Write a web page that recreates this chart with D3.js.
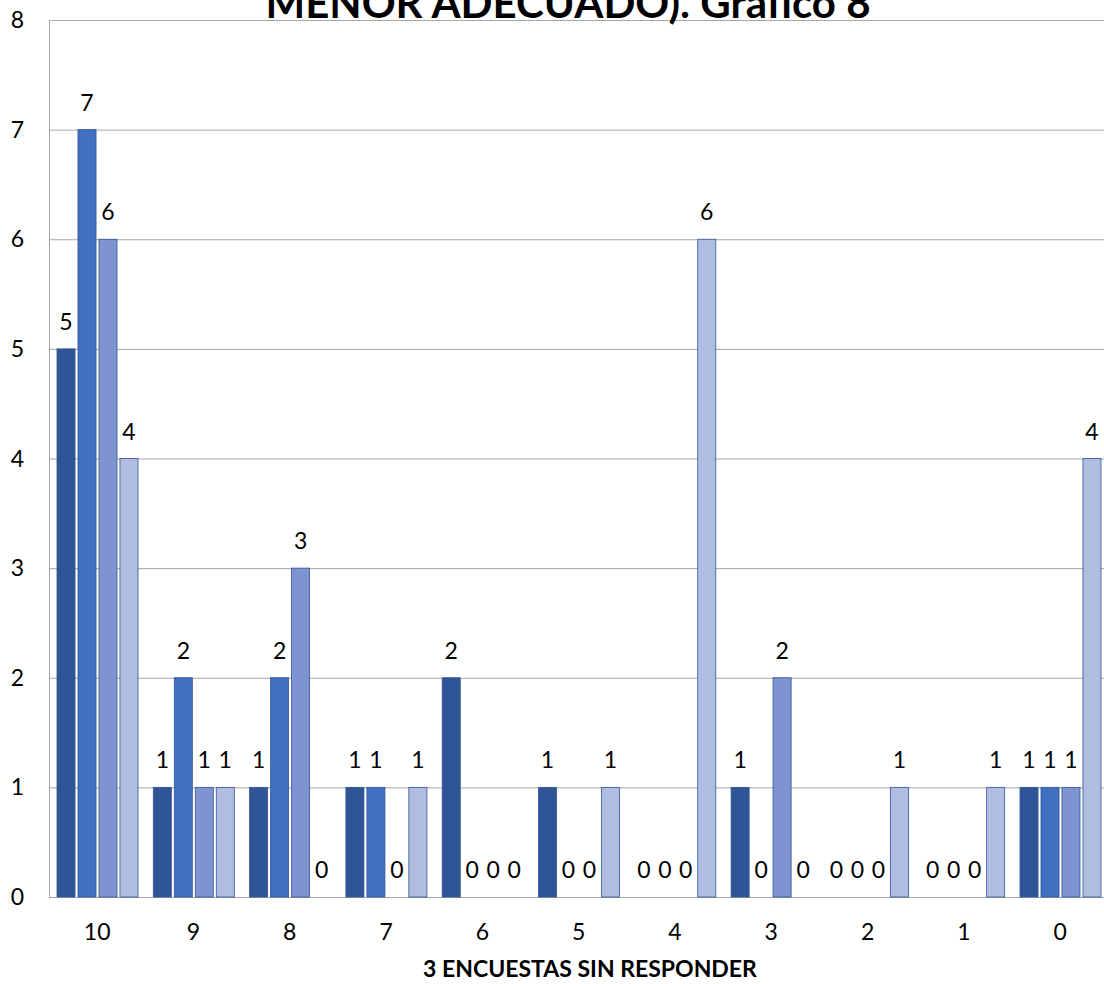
<!DOCTYPE html>
<html>
<head>
<meta charset="utf-8">
<script src="https://cdn.jsdelivr.net/npm/d3@7"></script>
<style>
  html, body { margin: 0; padding: 0; background: #fff; }
  svg { display: block; font-family: Lato, "Open Sans", sans-serif; }
</style>
</head>
<body>
<svg id="chart" width="1104" height="984"></svg>
<script>
const categories = ["10", "9", "8", "7", "6", "5", "4", "3", "2", "1", "0"];
const seriesNames = ["S1", "S2", "S3", "S4"];
const s1 = [5, 1, 1, 1, 2, 1, 0, 1, 0, 0, 1];
const s2 = [7, 2, 2, 1, 0, 0, 0, 0, 0, 0, 1];
const s3 = [6, 1, 3, 0, 0, 0, 0, 2, 0, 0, 1];
const s4 = [4, 1, 0, 1, 0, 1, 6, 0, 1, 1, 4];
const yTicks = [0, 1, 2, 3, 4, 5, 6, 7, 8];
const titleText = "MENOR ADECUADO). Gráfico 8";
const xTitle = "3 ENCUESTAS SIN RESPONDER";

const seriesValues = [s1, s2, s3, s4];
const colors = ["#2F5597", "#4270C0", "#7D94D1", "#B1BDE0"];

const svg = d3.select("#chart");
const plotLeft = 49, plotTop = 20, plotBottom = 897;
const step = 96.3;
const numSize = 23;

const x = d3.scaleBand().domain(categories).range([plotLeft, plotLeft + step * categories.length]).padding(0);
const xs = d3.scaleBand().domain(seriesNames).range([8, 89]).paddingInner(0.14).paddingOuter(0);
const y = d3.scaleLinear().domain([0, 8]).range([plotBottom, plotTop]);

// gridlines
svg.append("g").selectAll("line").data(yTicks).join("line")
  .attr("x1", plotLeft).attr("x2", 1104)
  .attr("y1", d => y(d) + 0.5).attr("y2", d => y(d) + 0.5)
  .attr("stroke", "#a6a6a6").attr("stroke-width", 1);

// left axis line
svg.append("line").attr("x1", plotLeft + 0.5).attr("x2", plotLeft + 0.5)
  .attr("y1", plotTop).attr("y2", plotBottom)
  .attr("stroke", "#a6a6a6").attr("stroke-width", 1);

// y tick labels
svg.append("g").selectAll("text").data(yTicks).join("text")
  .attr("x", 24).attr("y", d => y(d) + 8)
  .attr("text-anchor", "end").attr("font-size", numSize).attr("fill", "#000")
  .text(d => d);

// bars
const data = [];
categories.forEach((c, i) => {
  seriesNames.forEach((s, j) => {
    data.push({ cat: c, ser: s, j, v: seriesValues[j][i] });
  });
});

svg.append("g").selectAll("rect").data(data.filter(d => d.v > 0)).join("rect")
  .attr("x", d => x(d.cat) + xs(d.ser))
  .attr("y", d => y(d.v))
  .attr("width", xs.bandwidth())
  .attr("height", d => y(0) - y(d.v))
  .attr("fill", d => colors[d.j])
  .attr("stroke", "#2F5597").attr("stroke-width", 0.8);

// value labels
svg.append("g").selectAll("text").data(data).join("text")
  .attr("x", d => x(d.cat) + xs(d.ser) + xs.bandwidth() / 2)
  .attr("y", d => y(d.v) - 19)
  .attr("text-anchor", "middle").attr("font-size", numSize).attr("fill", "#000")
  .text(d => d.v);

// x tick labels
svg.append("g").selectAll("text").data(categories).join("text")
  .attr("x", d => x(d) + x.bandwidth() / 2)
  .attr("y", 940)
  .attr("text-anchor", "middle").attr("font-size", numSize).attr("fill", "#000")
  .text(d => d);

// x axis title
svg.append("text").attr("x", 590).attr("y", 977)
  .attr("text-anchor", "middle").attr("font-size", 23).attr("font-weight", "bold")
  .attr("fill", "#000").text(xTitle);

// chart title
svg.append("text").attr("x", 568).attr("y", 18)
  .attr("text-anchor", "middle").attr("font-size", 42).attr("font-weight", "bold")
  .attr("fill", "#000").text(titleText);
</script>
</body>
</html>
